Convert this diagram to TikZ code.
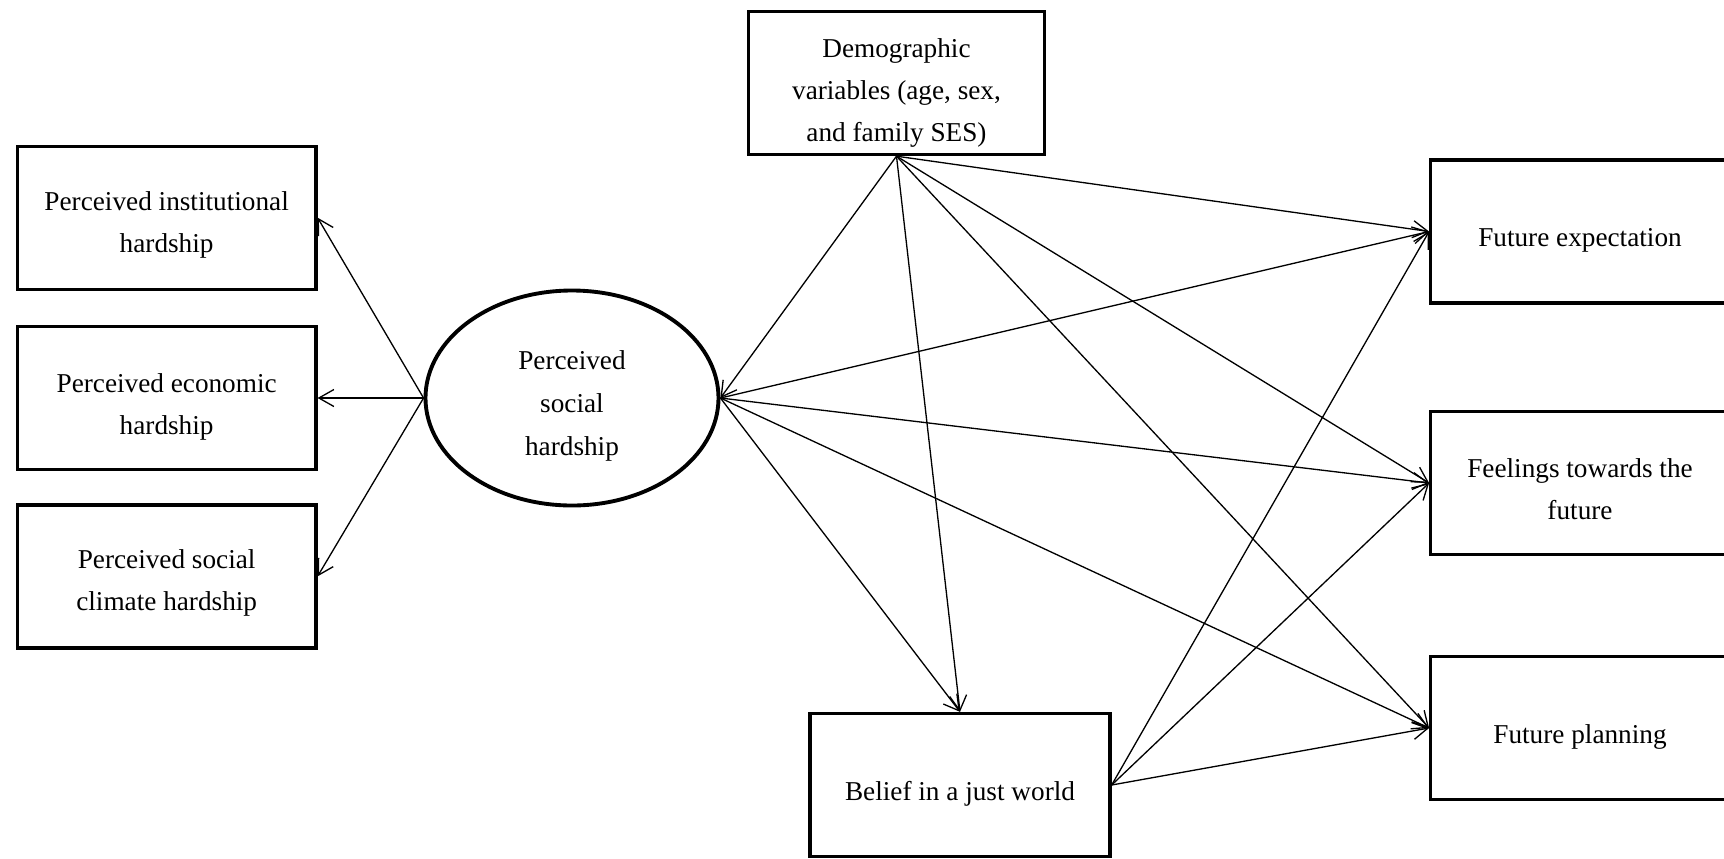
\documentclass[tikz,border=0pt]{standalone}
\usepackage{fontspec}
\setmainfont{Liberation Serif}
\usepackage{tikz}
\usetikzlibrary{shapes.geometric, arrows.meta, positioning}

\begin{document}
\begin{tikzpicture}[
  varbox/.style={rectangle, draw=black, line width=1.9pt, minimum width=5.97cm, minimum height=2.86cm, inner sep=0pt, align=center, font=\fontsize{15.5}{23.8}\selectfont, execute at begin node={\rule{0pt}{20.5pt}}},
  latent/.style={ellipse, draw=black, line width=2.2pt, minimum width=5.86cm, minimum height=4.3cm, inner sep=0pt, align=center, font=\fontsize{15.5}{24.5}\selectfont},
  effect/.style={-{Straight Barb[length=3mm, width=3.4mm]}, line width=0.75pt}
]
  \clip (0,0) rectangle (34.48,-17.16);

  \node[latent, text height=68.4pt] (sys) at (11.44,-7.96) {Perceived\\social\\hardship};
  \node[varbox, text height=45pt, left=2.12cm of sys] (eco) {Perceived economic\\hardship};
  \node[varbox, text height=43.2pt, above=0.68cm of eco] (inst) {Perceived institutional\\hardship};
  \node[varbox, text height=42.5pt, below=0.64cm of eco] (clim) {Perceived social\\climate hardship};

  \node[varbox, text height=70pt, minimum width=5.92cm] (demo) at (17.93,-1.66) {Demographic\\variables (age, sex,\\and family SES)};
  \node[varbox, minimum width=6.0cm] (bjw) at (19.2,-15.7) {Belief in a just world};

  \node[varbox] (fexp) at (31.6,-4.63) {Future expectation};
  \node[varbox, text height=41.3pt] (feel) at (31.6,-9.66) {Feelings towards the\\future};
  \node[varbox] (fplan) at (31.6,-14.56) {Future planning};

  % latent to indicators
  \draw[effect] (sys.west) -- (inst.east);
  \draw[effect] (sys.west) -- (eco.east);
  \draw[effect] (sys.west) -- (clim.east);

  % demographic controls
  \draw[effect] (demo.south) -- (sys.east);
  \draw[effect] (demo.south) -- (bjw.north);
  \draw[effect] (demo.south) -- (fexp.west);
  \draw[effect] (demo.south) -- (feel.west);
  \draw[effect] (demo.south) -- (fplan.west);

  % hardship to outcomes
  \draw[effect] (sys.east) -- (bjw.north);
  \draw[effect] (sys.east) -- (fexp.west);
  \draw[effect] (sys.east) -- (feel.west);
  \draw[effect] (sys.east) -- (fplan.west);

  % belief to outcomes
  \draw[effect] (bjw.east) -- (fexp.west);
  \draw[effect] (bjw.east) -- (feel.west);
  \draw[effect] (bjw.east) -- (fplan.west);
\end{tikzpicture}
\end{document}
